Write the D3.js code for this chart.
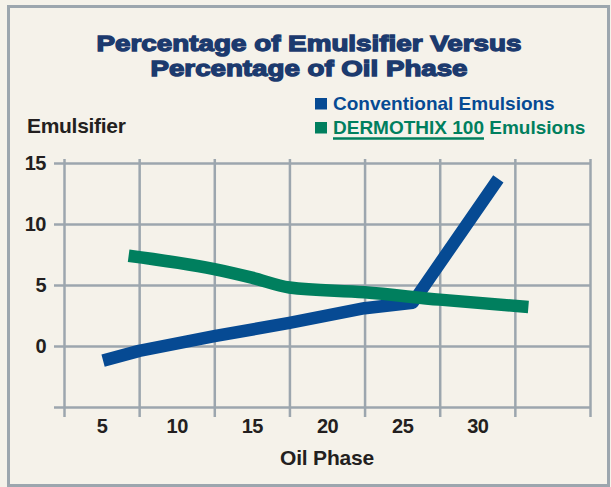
<!DOCTYPE html>
<html>
<head>
<meta charset="utf-8">
<script src="https://cdn.jsdelivr.net/npm/d3@7"></script>
<style>
  html, body { margin: 0; padding: 0; background: #f5f2ea; }
  svg { display: block; }
  text { font-family: "Liberation Sans", Arial, sans-serif; font-weight: bold; }
</style>
</head>
<body>
<svg id="chart" width="611" height="487"></svg>
<script>
// data
const titleLines = ["Percentage of Emulsifier Versus", "Percentage of Oil Phase"];
const seriesNames = ["Conventional Emulsions", "DERMOTHIX 100 Emulsions"];
const xTickLabels = [5, 10, 15, 20, 25, 30];
const xGridValues = [2.5, 7.5, 12.5, 17.5, 22.5, 27.5, 32.5, 37.5];
const yTickValues = [-5, 0, 5, 10, 15];

const conventionalX = [5.1, 7.5, 12.5, 17.5, 22.5, 25.7, 31.4];
const conventionalY = [-1.2, -0.4, 0.8, 1.9, 3.1, 3.55, 13.7];
const dermothixX = [6.8, 12.5, 15, 17.5, 22.5, 27.5, 33.4];
const dermothixY = [7.4, 6.3, 5.6, 4.8, 4.4, 3.8, 3.2];

// colours
const navy = "#1c3a6e";
const blue = "#064a93";
const green = "#007f5e";
const ink = "#231f20";
const gridColor = "#9ca6ae";

const svg = d3.select("#chart");

// frame
svg.append("rect")
  .attr("x", 8.5).attr("y", 6.5)
  .attr("width", 600).attr("height", 479)
  .attr("fill", "#f5f2ea")
  .attr("stroke", gridColor)
  .attr("stroke-width", 3);

// scales
const x = d3.scaleLinear().domain([2.5, 37.5]).range([64, 590]);
const y = d3.scaleLinear().domain([-5, 15]).range([407, 163]);

// horizontal grid + y labels
const yAxis = svg.append("g")
  .attr("transform", "translate(54,0)")
  .call(d3.axisLeft(y)
    .tickValues(yTickValues)
    .tickSize(-(590 - 54))
    .tickPadding(8)
    .tickFormat(d => d < 0 ? "" : d));
yAxis.select(".domain").remove();
yAxis.selectAll("line").attr("stroke", gridColor).attr("stroke-width", 2.5);
yAxis.selectAll("text")
  .attr("fill", ink)
  .style("font-size", "20px")
  .style("letter-spacing", "-0.5px");

// vertical grid
const xGrid = svg.append("g")
  .attr("transform", "translate(0,417)")
  .call(d3.axisBottom(x)
    .tickValues(xGridValues)
    .tickSize(-(417 - 159))
    .tickFormat(""));
xGrid.select(".domain").remove();
xGrid.selectAll("line").attr("stroke", gridColor).attr("stroke-width", 2.5);

// x labels
const xAxis = svg.append("g")
  .attr("transform", "translate(0,407)")
  .call(d3.axisBottom(x)
    .tickValues(xTickLabels)
    .tickSize(0)
    .tickPadding(12));
xAxis.select(".domain").remove();
xAxis.selectAll("text")
  .attr("fill", ink)
  .style("font-size", "20px")
  .style("letter-spacing", "-0.5px");

// lines
const line = d3.line()
  .x(d => x(d[0]))
  .y(d => y(d[1]));

svg.append("path")
  .datum(d3.zip(conventionalX, conventionalY))
  .attr("d", line)
  .attr("fill", "none")
  .attr("stroke", blue)
  .attr("stroke-width", 12.5)
  .attr("stroke-linejoin", "round");

svg.append("path")
  .datum(d3.zip(dermothixX, dermothixY))
  .attr("d", line.curve(d3.curveMonotoneX))
  .attr("fill", "none")
  .attr("stroke", green)
  .attr("stroke-width", 12.5);

// title
titleLines.forEach((t, i) => {
  svg.append("text")
    .attr("x", 309)
    .attr("y", 51 + i * 25)
    .attr("text-anchor", "middle")
    .attr("textLength", i === 0 ? 425 : 317)
    .attr("lengthAdjust", "spacingAndGlyphs")
    .attr("fill", navy)
    .attr("stroke", navy)
    .attr("stroke-width", 1.3)
    .style("font-size", "22px")
    .text(t);
});

// axis titles
svg.append("text")
  .attr("x", 27).attr("y", 133)
  .attr("fill", ink)
  .style("font-size", "21px")
  .style("letter-spacing", "-0.3px")
  .text("Emulsifier");

svg.append("text")
  .attr("x", 327).attr("y", 465)
  .attr("text-anchor", "middle")
  .attr("fill", ink)
  .style("font-size", "21px")
  .style("letter-spacing", "-0.2px")
  .text("Oil Phase");

// legend
const legendColors = [blue, green];
seriesNames.forEach((name, i) => {
  const yy = 110 + i * 24;
  svg.append("rect")
    .attr("x", 315).attr("y", yy - 12)
    .attr("width", 12).attr("height", 11.5)
    .attr("fill", legendColors[i]);
  const t = svg.append("text")
    .attr("x", 333).attr("y", yy)
    .attr("fill", legendColors[i])
    .style("font-size", "19px")
    .text(name);
  if (i === 1) {
    const w = t.node().getSubStringLength(0, "DERMOTHIX 100".length);
    svg.append("line")
      .attr("x1", 333).attr("x2", 333 + w)
      .attr("y1", yy + 4.5).attr("y2", yy + 4.5)
      .attr("stroke", green)
      .attr("stroke-width", 2.5);
  }
});
</script>
</body>
</html>
